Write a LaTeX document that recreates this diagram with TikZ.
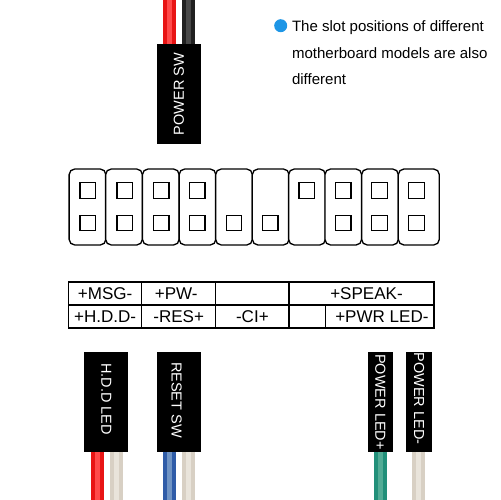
\documentclass[tikz,border=0pt]{standalone}
\usepackage{fontspec}
\setsansfont{Liberation Sans}
\usetikzlibrary{positioning,calc}
\definecolor{NoteBlue}{HTML}{1E96E6}
\definecolor{WireRed}{HTML}{E81414}
\definecolor{WireRedLt}{HTML}{FF4A4A}
\definecolor{WireBlue}{HTML}{2F5CA8}
\definecolor{WireBlueLt}{HTML}{7094C4}
\definecolor{WireGreen}{HTML}{21907A}
\definecolor{WireGreenLt}{HTML}{52AC96}
\definecolor{WireCream}{HTML}{D8D0C4}
\definecolor{WireCreamLt}{HTML}{E9E4DB}
\definecolor{WireBlack}{HTML}{202020}
\definecolor{WireBlackLt}{HTML}{484848}
\begin{document}
\begin{tikzpicture}[
    x=0.02cm, y=-0.02cm,
    font=\sffamily,
    slotbox/.style={draw=black, rounded corners=3.2pt, fill=white, line width=0.75pt, minimum width=0.735cm, minimum height=1.52cm, inner sep=0pt},
    pinbox/.style={draw=black, fill=white, line width=0.7pt, minimum width=0.31cm, minimum height=0.31cm, inner sep=0pt},
    labelcell/.style={draw=black, line width=0.75pt, minimum height=0.46cm, inner sep=0pt, font=\sffamily\fontsize{9.7}{11}\selectfont},
    housing/.style={fill=black, text=white, minimum width=2cm, minimum height=#1, inner sep=0pt, font=\sffamily\fontsize{8.25}{10}\selectfont},
    wire/.style={draw=#1, line width=2.3pt, double distance=2.8pt, double=#1Lt}
]
  \useasboundingbox (0, 0) rectangle (500, 500);

  % -------------------------------------------------------------
  % NOTE
  % -------------------------------------------------------------
  \node[circle, fill=NoteBlue, minimum size=0.26cm, inner sep=0pt] (dot) at (280.7, 25.7) {};
  \node[anchor=north west, inner sep=0pt, align=left, font=\sffamily\fontsize{8.55}{15.1}\selectfont] (note) at (291.7, 20.5) {
    The slot positions of different\\
    motherboard models are also\\
    different
  };

  % -------------------------------------------------------------
  % HEADER SLOTS
  % -------------------------------------------------------------
  \node[slotbox] (s1) at (87.5, 207) {};
  \node[slotbox] (s2) at (124, 207) {};
  \node[slotbox] (s3) at (160.8, 207) {};
  \node[slotbox] (s4) at (197.5, 207) {};
  \node[slotbox] (s5) at (234, 207) {};
  \node[slotbox] (s6) at (270.7, 207) {};
  \node[slotbox] (s7) at (307, 207) {};
  \node[slotbox] (s8) at (343.3, 207) {};
  \node[slotbox] (s9) at (380, 207) {};
  \node[slotbox, minimum width=0.82cm] (s10) at (418.8, 207) {};

  % Pins
  \node[pinbox] (p1a) at (87.8, 190.5) {};
  \node[pinbox] (p2a) at (124.7, 190.5) {};
  \node[pinbox] (p3a) at (161.3, 190.5) {};
  \node[pinbox] (p4a) at (197.3, 190.5) {};
  \node[pinbox] (p7a) at (306.7, 190.5) {};
  \node[pinbox] (p8a) at (343.2, 190.5) {};
  \node[pinbox] (p9a) at (379.5, 190.5) {};
  \node[pinbox] (p10a) at (416.5, 190.5) {};
  \node[pinbox] (p1b) at (87.8, 223) {};
  \node[pinbox] (p2b) at (124.7, 223) {};
  \node[pinbox] (p3b) at (161.3, 223) {};
  \node[pinbox] (p4b) at (197.3, 223) {};
  \node[pinbox] (p5b) at (234, 223) {};
  \node[pinbox] (p6b) at (270.3, 223) {};
  \node[pinbox] (p8b) at (343.2, 223) {};
  \node[pinbox] (p9b) at (379.5, 223) {};
  \node[pinbox] (p10b) at (416.5, 223) {};

  % -------------------------------------------------------------
  % LABEL TABLE
  % -------------------------------------------------------------
  \node[labelcell, minimum width=1.464cm] (msg) at (105.1, 293.5) {+MSG-};
  \node[labelcell, minimum width=1.48cm] (pw) at (178.7, 293.5) {\hspace*{-0.03cm}+PW-\hspace*{0.07cm}};
  \node[labelcell, minimum width=1.466cm] (top3) at (252.4, 293.5) {};
  \node[labelcell, minimum width=2.9cm] (speak) at (361.5, 293.5) {+SPEAK-\hspace*{-0.2cm}};
  \node[labelcell, minimum width=1.464cm] (hdd_l) at (105.1, 316.5) {+H.D.D-};
  \node[labelcell, minimum width=1.48cm] (res) at (178.7, 316.5) {-RES+};
  \node[labelcell, minimum width=1.466cm] (ci) at (252.4, 316.5) {-CI+};
  \node[labelcell, minimum width=0.734cm] (bot4) at (307.4, 316.5) {};
  \node[labelcell, minimum width=2.166cm] (pwr) at (379.9, 316.5) {\hspace*{0.08cm}+PWR LED-};

  % -------------------------------------------------------------
  % CONNECTORS
  % -------------------------------------------------------------
  \node[housing=0.88cm, rotate=90] (powersw) at (179, 94) {POWER SW};
  \node[housing=0.88cm, rotate=-90] (hddled) at (106.3, 402) {H.D.D LED\hspace*{0.12cm}};
  \node[housing=0.88cm, rotate=-90] (resetsw) at (179, 402) {\raisebox{-0.046cm}[\height][\depth]{RESET SW}\hspace*{0.08cm}};
  \node[housing=0.51cm, rotate=-90] (ledp) at (380.4, 402) {POWER LED+};
  \node[housing=0.51cm, rotate=-90] (ledm) at (419, 402) {POWER LED-\hspace*{0.14cm}};

  % Wires
  \coordinate (w1) at (169.5, 0);
  \coordinate (w2) at (188.5, 0);
  \coordinate (w3) at (97.7, 500);
  \coordinate (w4) at (116.1, 500);
  \coordinate (w5) at (169.4, 500);
  \coordinate (w6) at (188.8, 500);
  \coordinate (w7) at (380.5, 500);
  \coordinate (w8) at (418.5, 500);

  \draw[wire=WireRed] (w1) -- (w1 |- powersw.east);
  \draw[wire=WireBlack] (w2) -- (w2 |- powersw.east);
  \draw[wire=WireRed] (w3) -- (w3 |- hddled.east);
  \draw[wire=WireCream] (w4) -- (w4 |- hddled.east);
  \draw[wire=WireBlue] (w5) -- (w5 |- resetsw.east);
  \draw[wire=WireCream] (w6) -- (w6 |- resetsw.east);
  \draw[wire=WireGreen] (w7) -- (w7 |- ledp.east);
  \draw[wire=WireCream] (w8) -- (w8 |- ledm.east);

\end{tikzpicture}
\end{document}
